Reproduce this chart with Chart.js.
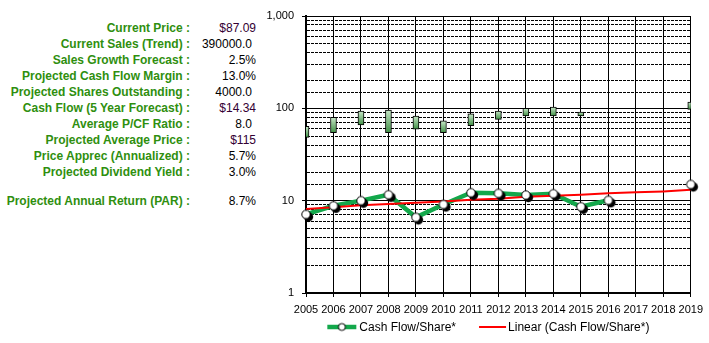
<!DOCTYPE html>
<html>
<head>
<meta charset="utf-8">
<script src="https://cdn.jsdelivr.net/npm/chart.js@4.4.1/dist/chart.umd.min.js"></script>
<style>
    html, body { margin: 0; padding: 0; background: #fff; }
    body { width: 709px; height: 343px; position: relative; overflow: hidden; font-family: Arial, "Liberation Sans", sans-serif; }
    #stats { position: absolute; left: 0; top: 0; width: 260px; height: 230px; }
    .row { position: absolute; left: 0; width: 260px; height: 16px; line-height: 16px; font-size: 12px; white-space: nowrap; }
    .lbl { position: absolute; right: 70px; font-weight: bold; color: #2f8f0f; }
    .val { position: absolute; right: 4px; color: #000; }
    #chartBox { position: absolute; left: 260px; top: 0; width: 449px; height: 343px; }
</style>
</head>
<body>
<div id="stats"></div>
<div id="chartBox"><canvas id="parChart"></canvas></div>
<script>
// summary panel
var statLabels = ['Current Price :', 'Current Sales (Trend) :', 'Sales Growth Forecast :', 'Projected Cash Flow Margin :',
    'Projected Shares Outstanding :', 'Cash Flow (5 Year Forecast) :', 'Average P/CF Ratio :', 'Projected Average Price :',
    'Price Apprec (Annualized) :', 'Projected Dividend Yield :', 'Projected Annual Return (PAR) :'];
var statValues = ['$87.09', '390000.0', '2.5%', '13.0%', '4000.0', '$14.34', '8.0', '$115', '5.7%', '3.0%', '8.7%'];

// chart data
var years = ['2005', '2006', '2007', '2008', '2009', '2010', '2011', '2012', '2013', '2014', '2015', '2016', '2017', '2018', '2019'];
var priceHigh = [64, 80, 93.5, 96, 82.5, 73, 87, 93.5, 100, 103, 91, null, null, null, 117];
var priceLow = [48.5, 54.5, 66, 54.5, 59.5, 54.5, 65, 76, 83, 83, 83, null, null, null, 97.5];
var cashFlow = [7.1, 8.8, 10.0, 11.6, 6.6, 9.1, 12.2, 12.0, 11.5, 11.9, 8.6, 10.1, null, null, 15.0];
var cashTrend = [8.1, 8.5, 8.9, 9.2, 9.5, 9.8, 10.2, 10.5, 11.0, 11.3, 11.6, 12.0, 12.3, 12.6, 13.1];
var yTicks = [1, 10, 100, 1000];
var legendNames = ['Cash Flow/Share*', 'Linear (Cash Flow/Share*)'];

var GREEN = '#13a84b';
var RED = '#ff0000';

function buildStats() {
    var box = document.getElementById('stats');
    statLabels.forEach(function (label, i) {
        var row = document.createElement('div');
        row.className = 'row';
        row.style.top = (19.5 + i * 16 + (i === statLabels.length - 1 ? 13.5 : 0)) + 'px';
        var l = document.createElement('span');
        l.className = 'lbl';
        l.textContent = label;
        var v = document.createElement('span');
        v.className = 'val';
        var txt = statValues[i];
        v.textContent = txt;
        if (txt.charAt(0) === '$') v.style.color = '#330033';
        if (/\.0$/.test(txt) && txt.indexOf('%') < 0) v.style.right = '8px';
        row.appendChild(l);
        row.appendChild(v);
        box.appendChild(row);
    });
}

function makeMarker(r, off) {
    var c = document.createElement('canvas');
    var s = Math.ceil((r + off + 2) * 2);
    c.width = s;
    c.height = s;
    var g = c.getContext('2d');
    var m = s / 2;
    if (off > 0) {
        g.beginPath();
        g.arc(m + off, m + off, r + 0.5, 0, Math.PI * 2);
        g.fillStyle = '#000';
        g.fill();
    }
    g.beginPath();
    g.arc(m, m, r, 0, Math.PI * 2);
    g.fillStyle = '#fff';
    g.fill();
    g.lineWidth = 1;
    g.strokeStyle = '#000';
    g.stroke();
    return c;
}

function isDecade(v) {
    return yTicks.indexOf(v) >= 0;
}

function barFill(ctx) {
    var chart = ctx.chart;
    var v = ctx.raw;
    if (!chart.chartArea || !v || !chart.scales.y) return '#8cc68e';
    var top = chart.scales.y.getPixelForValue(v[1]);
    var bot = chart.scales.y.getPixelForValue(v[0]);
    var g = chart.ctx.createLinearGradient(0, top, 0, bot);
    g.addColorStop(0, '#c8e8c8');
    g.addColorStop(1, '#3f8f44');
    return g;
}

// Excel style legend under the axis
var legendPlugin = {
    id: 'excelLegend',
    afterDraw: function (chart) {
        var ctx = chart.ctx;
        var area = chart.chartArea;
        ctx.save();
        ctx.font = '12px Arial, "Liberation Sans", sans-serif';
        ctx.textBaseline = 'middle';
        ctx.fillStyle = '#000';
        var w1 = ctx.measureText(legendNames[0]).width;
        var w2 = ctx.measureText(legendNames[1]).width;
        var total = 29 + 3 + w1 + 23 + 27 + 2 + w2;
        var x = (area.left + area.right) / 2 - 10 - total / 2;
        var y = 327;
        ctx.strokeStyle = GREEN;
        ctx.lineWidth = 4.5;
        ctx.beginPath();
        ctx.moveTo(x, y);
        ctx.lineTo(x + 29, y);
        ctx.stroke();
        ctx.drawImage(legendMarker, x + 14.5 - legendMarker.width / 2, y - legendMarker.height / 2);
        x += 32;
        ctx.fillText(legendNames[0], x, y + 1);
        x += w1 + 23;
        ctx.strokeStyle = RED;
        ctx.lineWidth = 2;
        ctx.beginPath();
        ctx.moveTo(x, y);
        ctx.lineTo(x + 27, y);
        ctx.stroke();
        x += 29;
        ctx.fillText(legendNames[1], x, y + 1);
        ctx.restore();
    }
};

var pointMarker = makeMarker(4.2, 2.5);
var legendMarker = makeMarker(3.5, 0);

function renderChart() {
    var bars = priceLow.map(function (lo, i) {
        return lo == null ? null : [lo, priceHigh[i]];
    });

    var ctx = document.getElementById('parChart').getContext('2d');
    new Chart(ctx, {
        type: 'bar',
        data: {
            labels: years,
            datasets: [{
                type: 'line',
                label: legendNames[0] + ' markers',
                data: cashFlow,
                showLine: false,
                pointStyle: pointMarker,
                pointRadius: 5,
                clip: false,
                order: 0
            }, {
                type: 'line',
                label: legendNames[1],
                data: cashTrend,
                borderColor: RED,
                borderWidth: 2,
                pointRadius: 0,
                clip: false,
                order: 1
            }, {
                type: 'line',
                label: legendNames[0],
                data: cashFlow,
                borderColor: GREEN,
                borderWidth: 4.5,
                pointRadius: 0,
                spanGaps: false,
                clip: false,
                order: 2
            }, {
                type: 'bar',
                label: 'Price range',
                data: bars,
                backgroundColor: barFill,
                borderColor: '#000',
                borderWidth: 1,
                borderSkipped: false,
                barThickness: 6,
                clip: 0,
                order: 3
            }]
        },
        options: {
            responsive: true,
            maintainAspectRatio: false,
            animation: false,
            layout: {padding: {left: 0, right: 16, top: 16, bottom: 30}},
            plugins: {
                legend: {display: false},
                tooltip: {enabled: false}
            },
            scales: {
                x: {
                    offset: false,
                    grid: {color: '#000', lineWidth: 1, offset: false, tickLength: 4, tickColor: '#000'},
                    border: {color: '#000', width: 2},
                    ticks: {
                        color: '#000',
                        font: {family: 'Arial, "Liberation Sans", sans-serif', size: 11},
                        padding: 6,
                        maxRotation: 0,
                        autoSkip: false
                    },
                    afterFit: function (scale) {
                        scale.height = 20;
                    }
                },
                y: {
                    type: 'logarithmic',
                    min: 1,
                    max: 1000,
                    grid: {
                        color: '#000',
                        lineWidth: 1,
                        tickLength: 4,
                        tickColor: function (c) {
                            return c.tick && isDecade(c.tick.value) ? '#000' : 'rgba(0,0,0,0)';
                        }
                    },
                    border: {
                        color: '#000',
                        width: 2,
                        dash: function (c) {
                            return c.tick && !isDecade(c.tick.value) ? [3, 1] : [];
                        }
                    },
                    ticks: {
                        color: '#000',
                        font: {family: 'Arial, "Liberation Sans", sans-serif', size: 11},
                        padding: 8,
                        autoSkip: false,
                        callback: function (value) {
                            return isDecade(value) ? Number(value).toLocaleString('en-US') : '';
                        }
                    },
                    afterFit: function (scale) {
                        scale.width = 46;
                    }
                }
            }
        },
        plugins: [legendPlugin]
    });
}

buildStats();
renderChart();
</script>
</body>
</html>
